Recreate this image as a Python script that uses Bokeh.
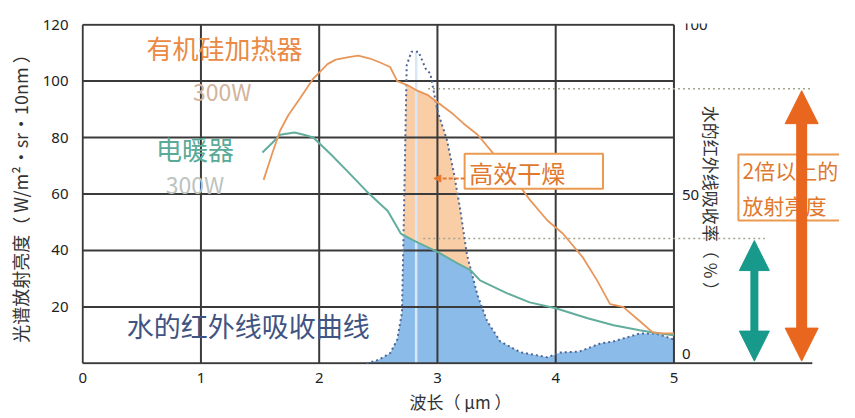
import numpy as np
from bokeh.plotting import figure
from bokeh.models import Range1d, FixedTicker, Arrow, NormalHead
from bokeh.core.properties import value
from bokeh.embed import file_html
from bokeh.resources import INLINE

# ---------------- data ----------------
wavelength_ticks = [0, 1, 2, 3, 4, 5]
radiance_ticks = [20, 40, 60, 80, 100, 120]
absorb_ticks = [0, 50, 100]
absorb_tick_labels = ["0", "50", "100"]

# 有机硅加热器 300W (left axis)
silicone_x = [1.53, 1.60, 1.67, 1.74, 1.84, 1.95, 2.00, 2.07, 2.14, 2.25, 2.33, 2.43,
              2.52, 2.60, 2.66, 2.75, 2.83, 2.92, 3.00, 3.13, 3.22, 3.34, 3.50, 3.64,
              3.78, 3.93, 4.06, 4.23, 4.35, 4.46, 4.57, 4.71, 4.82, 4.90, 5.00]
silicone_y = [65, 74, 82.5, 88, 94, 100.9, 103, 106, 107.6, 108.5, 109, 108,
              106.5, 105, 100, 98.5, 96.6, 95, 92.5, 88.4, 85, 81, 73, 66,
              58, 50.6, 46, 37.5, 29.4, 21, 20, 15, 11, 10.6, 10.6]

# 电暖器 300W (left axis)
heater_x = [1.52, 1.60, 1.67, 1.79, 1.87, 1.95, 2.10, 2.24, 2.40, 2.58, 2.69, 2.80,
            3.00, 3.17, 3.28, 3.36, 3.59, 3.78, 4.00, 4.27, 4.49, 4.71, 4.88, 5.00]
heater_y = [74.7, 78, 81, 81.8, 81, 80, 74, 68, 61, 54, 46, 43.5,
            39.5, 35.4, 33, 29.4, 24.8, 21.6, 19.5, 16, 13.5, 11.7, 10.6, 10]

# 水的红外线吸收率 (%) (right axis)
water_x = [2.40, 2.50, 2.60, 2.66, 2.70, 2.72, 2.74, 2.78, 2.84, 2.90, 2.94, 3.00,
           3.08, 3.14, 3.19, 3.25, 3.34, 3.42, 3.53, 3.70, 3.93, 4.04, 4.20, 4.38,
           4.49, 4.71, 4.85, 4.97, 5.00]
water_pct = [0, 1, 3, 7, 15, 50, 88, 92, 92, 87, 85.5, 74.6,
             66, 56, 46, 32, 20, 12.5, 6.5, 3.3, 1.8, 3.2, 3.5, 5.9,
             6.5, 8.8, 8.8, 7.4, 7]

water_peak_x = 2.82
silicone_level = 97.3
heater_level = 44.2

# ---------------- figure ----------------
Y0, Y1 = -0.4, 120.4
X0, X1 = -0.01, 6.40
p = figure(width=839, height=418, output_backend="svg", toolbar_location=None,
           x_range=Range1d(X0, X1), y_range=Range1d(Y0, Y1),
           min_border_left=81, min_border_right=0, min_border_top=23, min_border_bottom=54)
p.extra_y_ranges = {"water": Range1d(Y0 * 100 / 120, Y1 * 100 / 120)}
p.outline_line_color = None
p.background_fill_color = "white"
p.border_fill_color = "white"
p.xgrid.visible = False
p.ygrid.visible = False

CJK = value("Noto Sans CJK SC")

# axes
p.xaxis.ticker = FixedTicker(ticks=wavelength_ticks)
p.yaxis.ticker = FixedTicker(ticks=radiance_ticks)
for ax in (p.xaxis[0], p.yaxis[0]):
    ax.axis_line_color = None
    ax.major_tick_line_color = None
    ax.minor_tick_line_color = None
    ax.major_label_text_font = "Noto Sans"
    ax.major_label_text_font_size = "15px"
    ax.major_label_text_color = "#222222"
    ax.axis_label_text_font = "Noto Sans CJK SC"
    ax.axis_label_text_font_style = "normal"
    ax.axis_label_text_color = "#333333"
    ax.axis_label_text_font_size = "17px"
p.xaxis.axis_label = "波长（ μm ）"
p.xaxis.major_label_standoff = 2
p.xaxis.axis_label_standoff = 3
p.yaxis.axis_label = "光谱放射亮度（ W/m²·sr·10nm ）"
p.yaxis.axis_label_text_font_size = "18px"
p.yaxis.major_label_standoff = 7
p.yaxis.axis_label_standoff = 7

# ---------------- fills ----------------
xg = np.linspace(water_x[0], water_x[-1], 1041)
w = np.interp(xg, water_x, water_pct) * 120 / 100
t = np.interp(xg, heater_x, heater_y)
o = np.interp(xg, silicone_x, silicone_y)
blue_top = np.minimum(w, t)
peach_top = np.maximum(t, np.minimum(w, o))
p.varea(x=xg, y1=np.zeros_like(xg), y2=blue_top, fill_color="#8bbbe9")
p.varea(x=xg, y1=t, y2=peach_top, fill_color="#f9cda6")
p.segment(x0=[water_peak_x], y0=[0], x1=[water_peak_x], y1=[max(water_pct)],
          y_range_name="water", line_color="#d6e8f8", line_width=2.5)

# ---------------- frame / grid ----------------
p.segment(x0=wavelength_ticks, y0=[0] * len(wavelength_ticks),
          x1=wavelength_ticks, y1=[radiance_ticks[-1]] * len(wavelength_ticks),
          line_color="#3a3a3a", line_width=2)
p.segment(x0=[0] * len(radiance_ticks), y0=radiance_ticks,
          x1=[wavelength_ticks[-1]] * len(radiance_ticks), y1=radiance_ticks,
          line_color="#3a3a3a", line_width=2)
baseline_end = 6.17
p.segment(x0=[0], y0=[0], x1=[baseline_end], y1=[0], line_color="#3a3a3a", line_width=2)

# ---------------- level lines ----------------
p.segment(x0=[2.92, 2.88], y0=[silicone_level, heater_level],
          x1=[6.17, 5.77], y1=[silicone_level, heater_level],
          line_color="#a3a58f", line_width=1.5, line_dash="2 3")

# ---------------- curves ----------------
p.line(water_x, water_pct, y_range_name="water", line_color="#4d6796",
       line_width=2, line_dash="2 3")
p.line(heater_x, heater_y, line_color="#62ad9c", line_width=2)
p.line(silicone_x, silicone_y, line_color="#e8965a", line_width=1.8)

# ---------------- right axis (drawn as texts) ----------------
p.text(x=[wavelength_ticks[-1]] * 3, y=absorb_ticks, text=absorb_tick_labels,
       y_range_name="water", x_offset=8, y_offset=[-9, 1, 0],
       text_font=value("Noto Sans"), text_font_size="15px", text_color="#222222",
       text_align="left", text_baseline="middle")
p.text(x=[5.32], y=[57], text=["水的红外线吸收率（ % ）"], angle=-np.pi / 2,
       text_font=CJK, text_font_size="17px", text_color="#333333",
       text_align="center", text_baseline="middle")

# ---------------- series labels ----------------
p.text(x=[1.20], y=[111.9], text=["有机硅加热器"], text_font=CJK, text_font_size="26px",
       text_color="#e98a45", text_align="center", text_baseline="middle")
p.text(x=[1.18], y=[96.6], text=["300W"], text_font=CJK, text_font_size="23px",
       text_color="#d2b49c", text_align="center", text_baseline="middle")
p.text(x=[0.95], y=[76.1], text=["电暖器"], text_font=CJK, text_font_size="26px",
       text_color="#5aaa98", text_align="center", text_baseline="middle")
p.text(x=[0.95], y=[63.7], text=["300W"], text_font=CJK, text_font_size="23px",
       text_color="#bcc3c0", text_align="center", text_baseline="middle")
p.text(x=[1.40], y=[13.5], text=["水的红外线吸收曲线"], text_font=CJK, text_font_size="27px",
       text_color="#3f5482", text_align="center", text_baseline="middle")

# 高效干燥 box
p.quad(left=[3.23], right=[4.40], bottom=[61.9], top=[74.3],
       fill_color="white", line_color="#eb9a52", line_width=2)
p.text(x=[3.27], y=[67.6], text=["高效干燥"], text_font=CJK, text_font_size="24px",
       text_color="#e0782e", text_align="left", text_baseline="middle")
p.add_layout(Arrow(x_start=3.23, y_start=65.5, x_end=2.97, y_end=65.5,
                   line_color="#e8782e", line_width=2, line_dash="4 2",
                   end=NormalHead(size=7, fill_color="#e8782e", line_color="#e8782e")))

# 2倍以上的放射亮度 box
p.quad(left=[5.545], right=[6.8], bottom=[50.6], top=[74.0],
       fill_color="white", line_color="#eb9a52", line_width=2)
p.text(x=[5.58], y=[62.3], text=["2倍以上的\n放射亮度"], text_font=CJK,
       text_font_size="21px", text_line_height=1.15,
       text_color="#e0782e", text_align="left", text_baseline="middle")

# double arrows
teal = "#17998b"
orng = "#e9661f"
p.add_layout(Arrow(x_start=5.68, y_start=0.8, x_end=5.68, y_end=43.5,
                   line_color=teal, line_width=8,
                   start=NormalHead(size=30, fill_color=teal, line_color=teal),
                   end=NormalHead(size=30, fill_color=teal, line_color=teal)))
p.add_layout(Arrow(x_start=6.08, y_start=0.8, x_end=6.08, y_end=96.6,
                   line_color=orng, line_width=11,
                   start=NormalHead(size=33, fill_color=orng, line_color=orng),
                   end=NormalHead(size=33, fill_color=orng, line_color=orng)))

open("out.html", "w").write(file_html(p, INLINE))
